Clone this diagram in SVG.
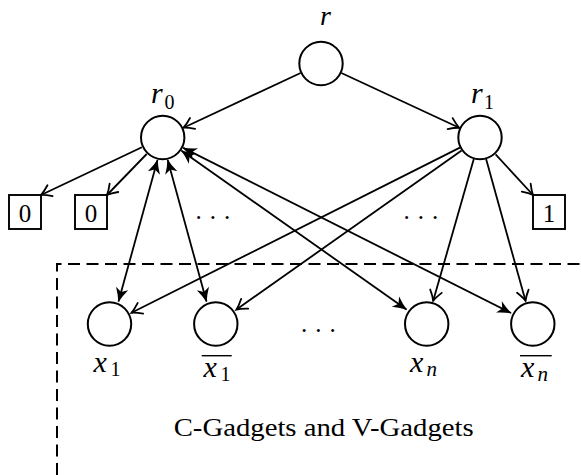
<svg xmlns="http://www.w3.org/2000/svg" width="581" height="475" viewBox="0 0 581 475">
<style>
.n{fill:#fff;stroke:#000;stroke-width:2}
.b{fill:#fff;stroke:#000;stroke-width:1.9}
.e{fill:none;stroke:#000;stroke-width:1.8}
.mi{font-family:"Liberation Serif","Times New Roman",serif;font-style:italic;font-size:30px;fill:#000}
.sub{font-family:"Liberation Serif","Times New Roman",serif;font-size:20px;fill:#000}
.subi{font-family:"Liberation Serif","Times New Roman",serif;font-style:italic;font-size:21px;fill:#000}
.t{font-family:"Liberation Serif","Times New Roman",serif;font-size:25px;fill:#000}
.ol{stroke:#000;stroke-width:1.4}
</style>
<defs>
<marker id="to" markerUnits="userSpaceOnUse" markerWidth="20" markerHeight="20" refX="0" refY="0" orient="auto" viewBox="-14 -10 20 20" overflow="visible">
<path d="M -10 -6 Q -4 -1.6 0 0 Q -4 1.6 -10 6" fill="none" stroke="#000" stroke-width="1.8" stroke-linecap="round"/>
</marker>
<marker id="st" markerUnits="userSpaceOnUse" markerWidth="20" markerHeight="20" refX="0" refY="0" orient="auto-start-reverse" viewBox="-16 -10 20 20" overflow="visible">
<path d="M 0.8 0 Q -6 -2 -13.5 -6.3 L -9.8 0 L -13.5 6.3 Q -6 2 0.8 0 Z" fill="#000"/>
</marker>
</defs>

<g id="region">
<path d="M 57 475 L 57 264 L 581 264" fill="none" stroke="#000" stroke-width="2" stroke-dasharray="12 6.5"/>
<text class="t" x="323.7" y="436" text-anchor="middle" textLength="300" lengthAdjust="spacingAndGlyphs">C-Gadgets and V-Gadgets</text>
</g>

<g id="connectors">
<line class="e" x1="300.6" y1="73" x2="183.5" y2="127.7" marker-end="url(#to)"/>
<line class="e" x1="341.4" y1="73" x2="459.2" y2="127.8" marker-end="url(#to)"/>
<line class="e" x1="141.9" y1="147.3" x2="41" y2="195" marker-end="url(#to)"/>
<line class="e" x1="146.7" y1="154" x2="107" y2="195" marker-end="url(#to)"/>
<line class="e" x1="495.6" y1="154.4" x2="533" y2="195" marker-end="url(#to)"/>
<line class="e" x1="157.5" y1="160" x2="118.5" y2="301.5" marker-start="url(#st)" marker-end="url(#st)"/>
<line class="e" x1="167.7" y1="160" x2="206.5" y2="301.5" marker-start="url(#st)" marker-end="url(#st)"/>
<line class="e" x1="181.5" y1="150.8" x2="406.5" y2="309.5" marker-start="url(#st)" marker-end="url(#st)"/>
<line class="e" x1="183.2" y1="147.9" x2="511" y2="313" marker-start="url(#st)" marker-end="url(#st)"/>
<line class="e" x1="459.9" y1="147.6" x2="131.5" y2="312.8" marker-end="url(#to)"/>
<line class="e" x1="461.6" y1="150.5" x2="236.5" y2="309.5" marker-end="url(#to)"/>
<line class="e" x1="473.8" y1="159.1" x2="433.2" y2="300.8" marker-end="url(#to)"/>
<line class="e" x1="486.1" y1="159.1" x2="525.5" y2="300.8" marker-end="url(#to)"/>
</g>

<g id="node-r">
<circle class="n" cx="321" cy="63.5" r="21.7"/>
<text class="mi" x="320" y="25" style="font-size:28px">r</text>
</g>
<g id="node-r0">
<circle class="n" cx="162.7" cy="137.5" r="21.7"/>
<text class="mi" x="151" y="103">r</text>
<text class="sub" x="164.5" y="108.5">0</text>
</g>
<g id="node-r1">
<circle class="n" cx="480" cy="137.5" r="21.7"/>
<text class="mi" x="471" y="103">r</text>
<text class="sub" x="484" y="108.5">1</text>
</g>

<g id="leaf-0a">
<rect class="b" x="9" y="195" width="32" height="34"/>
<text class="t" x="25" y="221.5" text-anchor="middle">0</text>
</g>
<g id="leaf-0b">
<rect class="b" x="75" y="195" width="32" height="34"/>
<text class="t" x="91" y="221.5" text-anchor="middle">0</text>
</g>
<g id="leaf-1">
<rect class="b" x="533" y="195" width="32" height="34"/>
<text class="t" x="549" y="221.5" text-anchor="middle">1</text>
</g>

<g id="dots">
<text class="t" x="195.5" y="218.5" letter-spacing="8">...</text>
<text class="t" x="403.5" y="218.5" letter-spacing="8">...</text>
<text class="t" x="301" y="332" letter-spacing="8">...</text>
</g>

<g id="node-x1">
<circle class="n" cx="109.5" cy="324" r="21.7"/>
<text class="mi" x="93.5" y="371.5">x</text>
<text class="sub" x="110.5" y="376">1</text>
</g>
<g id="node-x1bar">
<circle class="n" cx="215.8" cy="324" r="21.7"/>
<line class="ol" x1="201.7" y1="355.7" x2="231.7" y2="355.7"/>
<text class="mi" x="203.5" y="376.5">x</text>
<text class="sub" x="220.5" y="381">1</text>
</g>
<g id="node-xn">
<circle class="n" cx="426.7" cy="324" r="21.7"/>
<text class="mi" x="410" y="371.5">x</text>
<text class="subi" x="426.5" y="376">n</text>
</g>
<g id="node-xnbar">
<circle class="n" cx="532.8" cy="324" r="21.7"/>
<line class="ol" x1="520" y1="355.7" x2="551.7" y2="355.7"/>
<text class="mi" x="521" y="376.5">x</text>
<text class="subi" x="537.5" y="381">n</text>
</g>
</svg>
